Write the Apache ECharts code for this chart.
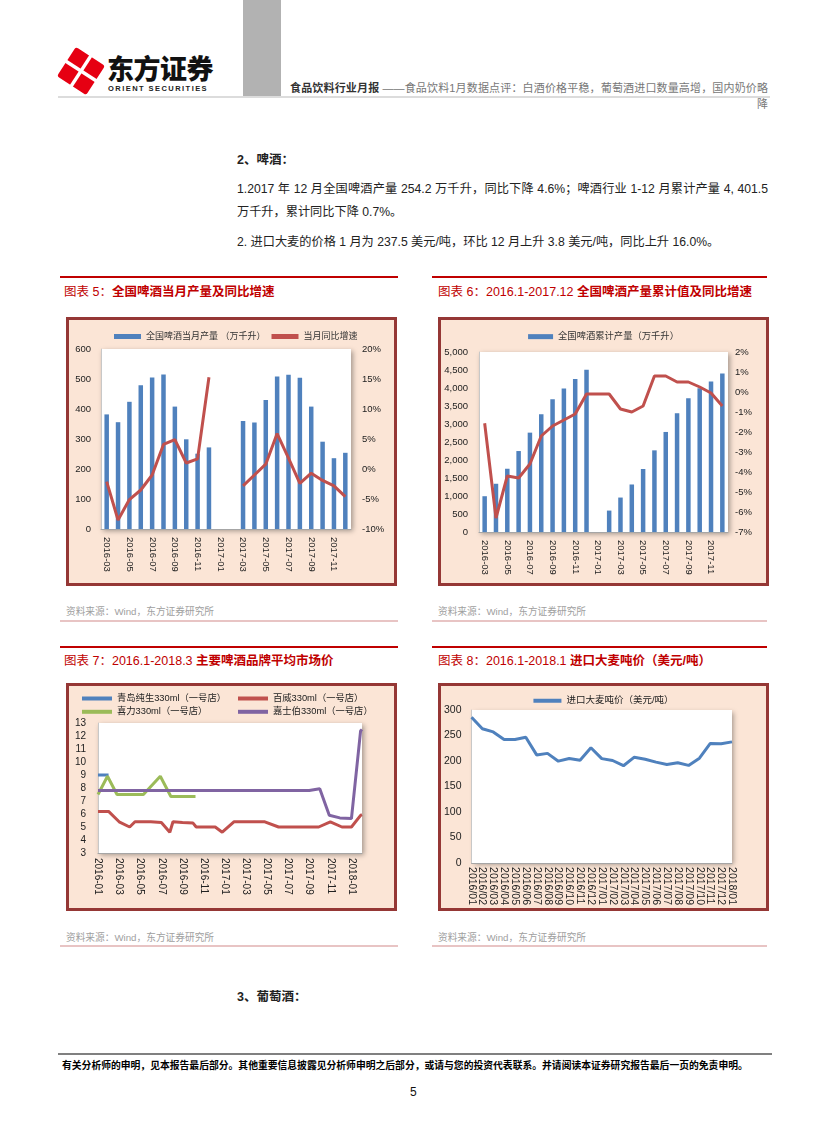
<!DOCTYPE html>
<html><head><meta charset="utf-8">
<script src="https://cdn.jsdelivr.net/npm/echarts@6/dist/echarts.min.js"></script>
<style>
body{margin:0;background:#fff;width:827px;height:1122px;position:relative;overflow:hidden;font-family:"Liberation Sans","Noto Sans CJK SC",sans-serif;color:#222;}
.abs{position:absolute;white-space:nowrap;line-height:1;}
.box{position:absolute;border:3px solid #953735;background:#fbe5d6;box-sizing:border-box;}
.box>div{position:absolute;left:0;top:0;right:0;bottom:0;}
.ttl{color:#c00000;font-size:12.5px;}
.ttl b{font-weight:bold;}
.src{color:#a0a0a0;font-size:9.7px;}
.rline{position:absolute;height:1.5px;background:#c00000;}
.pline{position:absolute;height:2px;background:#e8c4c4;}
</style></head><body>
<!-- header -->
<div class="abs" style="left:243px;top:0;width:38px;height:98px;background:#b2b2b2"></div>
<div class="abs" style="left:58px;top:96px;width:712px;height:2px;background:#dcdcdc"></div>
<svg class="abs" style="left:56px;top:47px" width="50" height="48" viewBox="0 0 50 48">
  <g transform="rotate(-12 25 24)">
    <polygon points="25,3 46,24 25,45 4,24" fill="#e60012" stroke="#e60012" stroke-width="5" stroke-linejoin="round"/>
    <line x1="11" y1="10" x2="39" y2="38" stroke="#fff" stroke-width="3.5"/>
    <line x1="39" y1="10" x2="11" y2="38" stroke="#fff" stroke-width="3.5"/>
  </g>
</svg>
<div class="abs" style="left:107px;top:54px;font-size:27px;font-weight:900;font-family:'Noto Sans CJK SC';color:#111;letter-spacing:-0.5px">东方证券</div>
<div class="abs" style="left:108px;top:84.5px;font-size:7.5px;font-weight:bold;letter-spacing:1.45px;color:#222">ORIENT SECURITIES</div>
<div class="abs" style="left:290px;top:82.5px;width:478px;font-size:11px;color:#777;text-align:justify;text-align-last:justify;white-space:normal"><b style="color:#333">食品饮料行业月报</b> ——食品饮料1月数据点评：白酒价格平稳，葡萄酒进口数量高增，国内奶价略</div>
<div class="abs" style="left:757px;top:98.5px;font-size:11px;color:#777">降</div>

<!-- body text -->
<div class="abs" style="left:237px;top:154px;font-size:12.5px;font-weight:bold">2、啤酒：</div>
<div class="abs" style="left:237px;top:183px;width:531px;font-size:12.2px;text-align:justify;text-align-last:justify;white-space:normal">1.2017 年 12 月全国啤酒产量 254.2 万千升，同比下降 4.6%；啤酒行业 1-12 月累计产量 4, 401.5</div>
<div class="abs" style="left:237px;top:206px;font-size:12.2px">万千升，累计同比下降 0.7%。</div>
<div class="abs" style="left:237px;top:236px;font-size:12.2px">2. 进口大麦的价格 1 月为 237.5 美元/吨，环比 12 月上升 3.8 美元/吨，同比上升 16.0%。</div>

<!-- titles row 1 -->
<div class="rline" style="left:60px;top:276px;width:338px"></div>
<div class="rline" style="left:432px;top:276px;width:335px"></div>
<div class="abs ttl" style="left:64px;top:286px">图表 5：<b>全国啤酒当月产量及同比增速</b></div>
<div class="abs ttl" style="left:438px;top:286px">图表 6：2016.1-2017.12 <b>全国啤酒产量累计值及同比增速</b></div>
<div class="box" style="left:66px;top:317px;width:331px;height:269px"><div id="c5"></div></div>
<div class="box" style="left:438px;top:317px;width:331px;height:269px"><div id="c6"></div></div>
<div class="abs src" style="left:66px;top:607px">资料来源：Wind，东方证券研究所</div>
<div class="abs src" style="left:438px;top:607px">资料来源：Wind，东方证券研究所</div>
<div class="pline" style="left:60px;top:620px;width:338px"></div>
<div class="pline" style="left:432px;top:620px;width:335px"></div>

<!-- titles row 2 -->
<div class="rline" style="left:60px;top:646px;width:338px"></div>
<div class="rline" style="left:432px;top:646px;width:335px"></div>
<div class="abs ttl" style="left:64px;top:655px">图表 7：2016.1-2018.3 <b>主要啤酒品牌平均市场价</b></div>
<div class="abs ttl" style="left:438px;top:655px">图表 8：2016.1-2018.1 <b>进口大麦吨价（美元/吨）</b></div>
<div class="box" style="left:66px;top:683px;width:331px;height:228px"><div id="c7"></div></div>
<div class="box" style="left:438px;top:683px;width:331px;height:228px"><div id="c8"></div></div>
<div class="abs src" style="left:66px;top:933px">资料来源：Wind，东方证券研究所</div>
<div class="abs src" style="left:438px;top:933px">资料来源：Wind，东方证券研究所</div>
<div class="pline" style="left:60px;top:945px;width:338px"></div>
<div class="pline" style="left:432px;top:945px;width:335px"></div>

<div class="abs" style="left:237px;top:991px;font-size:12.5px;font-weight:bold">3、葡萄酒：</div>

<!-- footer -->
<div class="abs" style="left:58px;top:1053px;width:714px;height:2px;background:#808080"></div>
<div class="abs" style="left:62px;top:1061px;font-size:9.8px;font-weight:bold;color:#000">有关分析师的申明，见本报告最后部分。其他重要信息披露见分析师申明之后部分，或请与您的投资代表联系。并请阅读本证券研究报告最后一页的免责申明。</div>
<div class="abs" style="left:410px;top:1086px;font-size:12px;color:#111">5</div>

<script>
// ---------- data ----------
const months = ['2016-03','2016-04','2016-05','2016-06','2016-07','2016-08','2016-09','2016-10','2016-11','2016-12',
  '2017-01','2017-02','2017-03','2017-04','2017-05','2017-06','2017-07','2017-08','2017-09','2017-10','2017-11','2017-12'];
const beerMonthly = [382,356,424,479,505,515,408,299,251,272,null,null,360,355,430,508,514,504,408,291,236,254];
const beerMonthlyYoY = [-2.1,-8.5,-5.1,-3.5,-1.0,4.1,4.9,1.0,1.7,15.3,null,null,-2.8,-1.0,0.8,5.9,1.8,-2.4,-0.7,-1.9,-2.8,-4.6];
const beerCum = [994,1340,1757,2249,2760,3271,3690,3987,4247,4507,null,595,957,1320,1750,2268,2779,3299,3717,3990,4180,4401];
const beerCumYoY = [-1.56,-6.3,-4.2,-4.3,-3.6,-2.2,-1.7,-1.4,-1.1,-0.1,-0.1,-0.1,-0.85,-1.0,-0.7,0.8,0.8,0.5,0.5,0.25,-0.05,-0.7];

const priceMonths = ['2016-01','2016-02','2016-03','2016-04','2016-05','2016-06','2016-07','2016-08','2016-09','2016-10','2016-11','2016-12',
  '2017-01','2017-02','2017-03','2017-04','2017-05','2017-06','2017-07','2017-08','2017-09','2017-10','2017-11','2017-12','2018-01','2018-02'];
const tsingtaoDates = ['2016-01-01','2016-02-01'];
const tsingtaoPrice = [9.0,9.0];
const budDates = ['2016-01-01','2016-02-01','2016-03-01','2016-04-01','2016-04-16','2016-06-01','2016-07-01','2016-07-25','2016-08-04','2016-09-01','2016-10-01','2016-10-10','2016-12-04','2016-12-24','2017-01-27','2017-04-25','2017-06-04','2017-09-28','2017-11-01','2017-12-04','2018-01-01','2018-01-27','2018-02-01'];
const budPrice = [6.2,6.2,5.4,5.0,5.4,5.4,5.35,4.6,5.4,5.35,5.3,5.0,5.0,4.6,5.4,5.4,5.0,5.0,5.4,5.0,5.0,5.9,5.95];
const heinekenDates = ['2016-01-01','2016-01-28','2016-02-25','2016-05-10','2016-06-28','2016-07-28','2016-10-08'];
const heinekenPrice = [7.5,8.9,7.5,7.5,8.9,7.35,7.35];
const carlsbergDates = ['2016-01-01','2017-09-01','2017-10-01','2017-10-28','2017-11-28','2018-01-01','2018-01-27','2018-02-01'];
const carlsbergPrice = [7.8,7.8,7.95,5.9,5.7,5.65,12.4,12.5];

const barleyMonths = ['2016/01','2016/02','2016/03','2016/04','2016/05','2016/06','2016/07','2016/08','2016/09','2016/10','2016/11','2016/12',
  '2017/01','2017/02','2017/03','2017/04','2017/05','2017/06','2017/07','2017/08','2017/09','2017/10','2017/11','2017/12','2018/01'];
const barleyPrice = [285.8,263.3,257,242,242,246.6,212,215,199.7,205,201.7,226,204.7,201,190.8,207.5,203.6,197.8,193.3,196.5,191.4,205.5,234.4,233.7,237.5];

// ---------- helpers ----------
const FF = '"Liberation Sans","Noto Sans CJK SC",sans-serif';
const BLUE='#4f81bd', RED='#c0504d', GREEN='#9bbb59', PURPLE='#8064a2';
const gridStyle = {show:true,backgroundColor:'#fff',borderWidth:0,shadowColor:'rgba(0,0,0,0.35)',shadowBlur:5,shadowOffsetX:2,shadowOffsetY:2};
function monthIdx(s){const p=s.split('-').map(Number);return (p[0]-2016)*12+(p[1]-1)+(p[2]-1)/30;}
function pairs(dates,vals){return dates.map((d,i)=>[monthIdx(d),vals[i]]);}
const lbl = (o)=>Object.assign({fontSize:9.5,color:'#222',fontFamily:FF},o);

// ---------- chart 5 ----------
const N5a='全国啤酒当月产量 （万千升）', N5b='当月同比增速';
echarts.init(document.getElementById('c5')).setOption({
  animation:false, textStyle:{fontFamily:FF},
  legend:{left:40,top:7,itemWidth:27,itemHeight:5,itemGap:6,textStyle:{fontSize:9,color:'#333',fontFamily:FF},
    data:[{name:N5a,icon:'rect'},{name:N5b,icon:'rect'}]},
  grid:Object.assign({left:32,top:29,right:43,bottom:54},gridStyle),
  xAxis:{type:'category',data:months,axisLine:{lineStyle:{color:'#a6a6a6'}},axisTick:{show:false},
    axisLabel:lbl({interval:1,rotate:-90,margin:8})},
  yAxis:[{type:'value',min:0,max:600,interval:100,axisLine:{show:true,lineStyle:{color:'#c8c8c8'}},axisTick:{show:false},splitLine:{show:false},axisLabel:lbl({margin:10})},
    {type:'value',min:-10,max:20,interval:5,axisLine:{show:false},axisTick:{show:false},splitLine:{show:false},axisLabel:lbl({formatter:'{value}%',margin:11})}],
  series:[{type:'bar',name:N5a,data:beerMonthly,barWidth:4.5,itemStyle:{color:BLUE}},
    {type:'line',name:N5b,yAxisIndex:1,data:beerMonthlyYoY,symbol:'none',lineStyle:{width:3,color:RED},itemStyle:{color:RED}}]
});

// ---------- chart 6 ----------
const N6a='全国啤酒累计产量（万千升）', N6b='累计同比增速';
echarts.init(document.getElementById('c6')).setOption({
  animation:false, textStyle:{fontFamily:FF},
  legend:{left:'center',top:7,itemWidth:25,itemHeight:5,textStyle:{fontSize:9.3,color:'#333',fontFamily:FF},
    data:[{name:N6a,icon:'rect'}]},
  grid:Object.assign({left:38,top:32,right:38,bottom:51},gridStyle),
  xAxis:{type:'category',data:months,axisLine:{lineStyle:{color:'#a6a6a6'}},axisTick:{show:false},
    axisLabel:lbl({interval:1,rotate:-90,margin:8})},
  yAxis:[{type:'value',min:0,max:5000,interval:500,axisLine:{show:true,lineStyle:{color:'#c8c8c8'}},axisTick:{show:false},splitLine:{show:false},
      axisLabel:lbl({margin:11,formatter:v=>v.toLocaleString('en-US')})},
    {type:'value',min:-7,max:2,interval:1,axisLine:{show:false},axisTick:{show:false},splitLine:{show:false},axisLabel:lbl({formatter:'{value}%',margin:7})}],
  series:[{type:'bar',name:N6a,data:beerCum,barWidth:4.5,itemStyle:{color:BLUE}},
    {type:'line',name:N6b,yAxisIndex:1,data:beerCumYoY,symbol:'none',lineStyle:{width:3,color:RED},itemStyle:{color:RED}}]
});

// ---------- chart 7 ----------
const S7 = [
  {name:'青岛纯生330ml（一号店）',color:BLUE,data:pairs(tsingtaoDates,tsingtaoPrice)},
  {name:'百威330ml（一号店）',color:RED,data:pairs(budDates,budPrice)},
  {name:'喜力330ml（一号店）',color:GREEN,data:pairs(heinekenDates,heinekenPrice)},
  {name:'嘉士伯330ml（一号店）',color:PURPLE,data:pairs(carlsbergDates,carlsbergPrice)}
];
const leg7 = (left,names)=>({orient:'vertical',left:left,top:2,itemWidth:30,itemHeight:4,itemGap:2.3,
  textStyle:{fontSize:9.3,lineHeight:11,color:'#222',fontFamily:FF},data:names.map(n=>({name:n,icon:'rect'}))});
echarts.init(document.getElementById('c7')).setOption({
  animation:false, textStyle:{fontFamily:FF},
  legend:[leg7(8,[S7[0].name,S7[2].name]),leg7(164,[S7[1].name,S7[3].name])],
  grid:Object.assign({left:29,top:37,right:32,bottom:55},gridStyle),
  xAxis:{type:'value',min:0,max:25,interval:2,axisLine:{show:true,lineStyle:{color:'#a6a6a6'}},axisTick:{show:false},splitLine:{show:false},
    axisLabel:lbl({fontSize:10,rotate:-90,margin:5,showMaxLabel:false,formatter:v=>(Number.isInteger(v)&&v%2===0)?priceMonths[v]:''})},
  yAxis:{type:'value',min:3,max:13,interval:1,axisLine:{show:true,lineStyle:{color:'#c8c8c8'}},axisTick:{show:false},splitLine:{show:false},
    axisLabel:lbl({fontSize:10,margin:12})},
  series:S7.map(s=>({type:'line',name:s.name,data:s.data,symbol:'none',lineStyle:{width:3,color:s.color},itemStyle:{color:s.color}}))
});

// ---------- chart 8 ----------
const N8='进口大麦吨价（美元/吨）';
echarts.init(document.getElementById('c8')).setOption({
  animation:false, textStyle:{fontFamily:FF},
  legend:{left:'center',top:5,itemWidth:28,itemHeight:4,textStyle:{fontSize:9.5,color:'#222',fontFamily:FF},data:[{name:N8,icon:'rect'}]},
  grid:Object.assign({left:29,top:24,right:34,bottom:42},gridStyle),
  xAxis:{type:'category',data:barleyMonths,boundaryGap:false,axisLine:{lineStyle:{color:'#a6a6a6'}},axisTick:{show:false},
    axisLabel:lbl({fontSize:10.5,interval:0,rotate:-90,margin:4})},
  yAxis:{type:'value',min:0,max:300,interval:50,axisLine:{show:true,lineStyle:{color:'#c8c8c8'}},axisTick:{show:false},splitLine:{show:false},
    axisLabel:lbl({fontSize:10.5,margin:10})},
  series:[{type:'line',name:N8,data:barleyPrice,symbol:'none',lineStyle:{width:3,color:BLUE},itemStyle:{color:BLUE}}]
});
</script>
</body></html>
